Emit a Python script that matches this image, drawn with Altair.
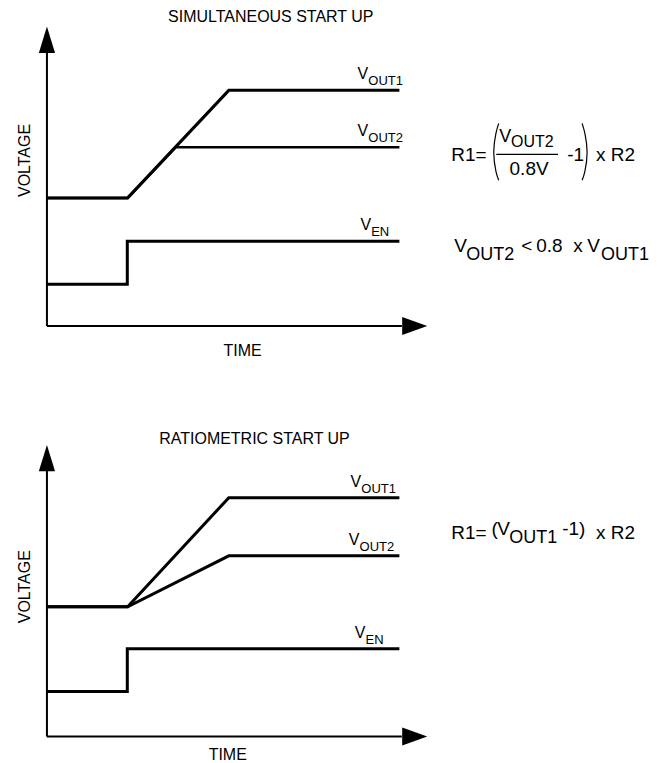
import altair as alt
import pandas as pd

FONT = "Liberation Sans"

# ---------------- data: simultaneous start up (top panel) ----------------
sim_t_out1 = [0, 2.29, 5.16, 10.0]
sim_v_out1 = [4.28, 4.28, 7.87, 7.87]
sim_t_out2 = [0, 2.29, 3.65, 10.0]
sim_v_out2 = [4.28, 4.28, 5.97, 5.97]
sim_t_en = [0, 2.28, 2.28, 10.0]
sim_v_en = [1.4, 1.4, 2.83, 2.83]
sim_axis_tip = 10.0

# ---------------- data: ratiometric start up (bottom panel) ----------------
rat_t_out1 = [0, 2.29, 5.16, 10.0]
rat_v_out1 = [4.33, 4.33, 7.97, 7.97]
rat_t_out2 = [0, 2.29, 5.16, 10.0]
rat_v_out2 = [4.33, 4.33, 6.03, 6.03]
rat_t_en = [0, 2.28, 2.28, 10.0]
rat_v_en = [1.5, 1.5, 2.93, 2.93]
rat_axis_tip = 9.73

x_axis_tip = 10.79
series_labels = ["OUT1", "OUT2", "EN"]


def line_rows(name, ts, vs, w):
    return [dict(series=name, order=i, t=a, v=b, w=w) for i, (a, b) in enumerate(zip(ts, vs))]


def panel(lines, parens, left_texts, center_texts, y_tip, origin_px, height):
    xs = alt.Scale(domain=[0, 10], range=[39, 392], nice=False, zero=False)
    ys = alt.Scale(domain=[0, 10], range=[origin_px, origin_px - 300], nice=False, zero=False)

    axes = pd.DataFrame(
        line_rows("xaxis", [0, x_axis_tip - 0.72], [0, 0], 2)
        + line_rows("yaxis", [0, 0], [0, y_tip - 0.85], 2)
    )
    all_lines = pd.concat([pd.DataFrame(lines), axes], ignore_index=True)

    line_layer = alt.Chart(all_lines).mark_line(color="black", strokeJoin="miter").encode(
        x=alt.X("t:Q", scale=xs, axis=None),
        y=alt.Y("v:Q", scale=ys, axis=None),
        detail="series:N",
        order="order:Q",
        strokeWidth=alt.StrokeWidth("w:Q", scale=None),
    )

    up = pd.DataFrame({"v": [y_tip - 0.88, y_tip], "tl": [-0.23, 0], "tr": [0.23, 0]})
    up_layer = alt.Chart(up).mark_area(orient="horizontal", color="black").encode(
        y=alt.Y("v:Q", scale=ys, axis=None),
        x=alt.X("tl:Q", scale=xs, axis=None),
        x2="tr:Q",
    )
    right = pd.DataFrame({"t": [x_axis_tip - 0.71, x_axis_tip], "lo": [-0.3, 0], "hi": [0.3, 0]})
    right_layer = alt.Chart(right).mark_area(orient="vertical", color="black").encode(
        x=alt.X("t:Q", scale=xs, axis=None),
        y=alt.Y("lo:Q", scale=ys, axis=None),
        y2="hi:Q",
    )

    layers = [line_layer, up_layer, right_layer]

    if parens:
        paren_layer = alt.Chart(pd.DataFrame(parens)).mark_line(
            color="black", interpolate="natural", strokeWidth=1.2
        ).encode(
            x=alt.X("t:Q", scale=xs, axis=None),
            y=alt.Y("v:Q", scale=ys, axis=None),
            detail="series:N",
            order="order:Q",
        )
        layers.append(paren_layer)

    lt = alt.Chart(pd.DataFrame(left_texts)).mark_text(
        align="left", baseline="alphabetic", font=FONT, color="black"
    ).encode(
        x=alt.X("t:Q", scale=xs, axis=None),
        y=alt.Y("v:Q", scale=ys, axis=None),
        text="text:N",
        size=alt.Size("fs:Q", scale=None),
    )
    ct = alt.Chart(pd.DataFrame(center_texts)).mark_text(
        align="center", baseline="alphabetic", font=FONT, color="black"
    ).encode(
        x=alt.X("t:Q", scale=xs, axis=None),
        y=alt.Y("v:Q", scale=ys, axis=None),
        text="text:N",
        size=alt.Size("fs:Q", scale=None),
        angle=alt.Angle("ang:Q", scale=None),
    )
    layers += [lt, ct]
    return alt.layer(*layers).properties(width=641, height=height)


def label_rows(t_v, t_sub, line_v, sub):
    return [
        dict(t=t_v, v=line_v + 0.367, text="V", fs=16),
        dict(t=t_sub, v=line_v + 0.167, text=sub, fs=13),
    ]


# ---------------- top panel ----------------
top_lines = (
    line_rows("out2", sim_t_out2, sim_v_out2, 2.5)
    + line_rows("out1", sim_t_out1, sim_v_out1, 3)
    + line_rows("en", sim_t_en, sim_v_en, 3)
    + line_rows("bar", [12.75, 14.5], [5.73, 5.73], 1.2)
)
top_parens = (
    [dict(series="lp", order=i, t=a, v=b) for i, (a, b) in enumerate(zip(
        [12.819, 12.739, 12.677, 12.739, 12.819], [6.767, 6.433, 5.8, 5.167, 4.867]))]
    + [dict(series="rp", order=i, t=a, v=b) for i, (a, b) in enumerate(zip(
        [15.184, 15.263, 15.326, 15.263, 15.184], [6.767, 6.433, 5.8, 5.167, 4.867]))]
)
top_left = (
    label_rows(8.81, 9.12, sim_v_out1[-1], series_labels[0])
    + label_rows(8.81, 9.12, sim_v_out2[-1], series_labels[1])
    + label_rows(8.90, 9.20, sim_v_en[-1], series_labels[2])
    + [
        dict(t=11.47, v=5.5, text="R1=", fs=19),
        dict(t=12.83, v=6.13, text="V", fs=18),
        dict(t=13.17, v=5.97, text="OUT2", fs=16),
        dict(t=14.76, v=5.5, text="-1", fs=19),
        dict(t=15.58, v=5.5, text="x R2", fs=19),
        dict(t=11.56, v=2.467, text="V", fs=19),
        dict(t=11.90, v=2.2, text="OUT2", fs=18),
        dict(t=13.46, v=2.467, text="<", fs=19),
        dict(t=13.88, v=2.467, text="0.8", fs=19),
        dict(t=14.93, v=2.467, text="x", fs=19),
        dict(t=15.33, v=2.467, text="V", fs=19),
        dict(t=15.72, v=2.2, text="OUT1", fs=18),
    ]
)
top_center = [
    dict(t=6.35, v=10.15, text="SIMULTANEOUS START UP", fs=16, ang=0),
    dict(t=5.55, v=-1.0, text="TIME", fs=16, ang=0),
    dict(t=-0.48, v=5.53, text="VOLTAGE", fs=16, ang=270),
    dict(t=13.68, v=5.03, text="0.8V", fs=19, ang=0),
]

# ---------------- bottom panel ----------------
bot_lines = (
    line_rows("out1", rat_t_out1, rat_v_out1, 3)
    + line_rows("out2", rat_t_out2, rat_v_out2, 3)
    + line_rows("en", rat_t_en, rat_v_en, 3)
)
bot_left = (
    label_rows(8.61, 8.92, rat_v_out1[-1], series_labels[0])
    + label_rows(8.56, 8.87, rat_v_out2[-1], series_labels[1])
    + label_rows(8.73, 9.04, rat_v_en[-1], series_labels[2])
    + [
        dict(t=11.47, v=6.6, text="R1=", fs=19),
        dict(t=12.61, v=6.73, text="(", fs=19),
        dict(t=12.78, v=6.73, text="V", fs=19),
        dict(t=13.12, v=6.47, text="OUT1", fs=18),
        dict(t=14.62, v=6.73, text="-1)", fs=19),
        dict(t=15.58, v=6.6, text="x R2", fs=19),
    ]
)
bot_center = [
    dict(t=5.89, v=9.77, text="RATIOMETRIC START UP", fs=16, ang=0),
    dict(t=5.13, v=-0.77, text="TIME", fs=16, ang=0),
    dict(t=-0.48, v=5.0, text="VOLTAGE", fs=16, ang=270),
]

top = panel(top_lines, top_parens, top_left, top_center, sim_axis_tip, 318, 370)
bottom = panel(bot_lines, None, bot_left, bot_center, rat_axis_tip, 359, 377)

chart = alt.vconcat(top, bottom, spacing=0, bounds="flush").properties(
    padding=0, background="white"
).configure_view(stroke=None)

chart.save("out.html", embed_options={"renderer": "svg", "actions": False})
